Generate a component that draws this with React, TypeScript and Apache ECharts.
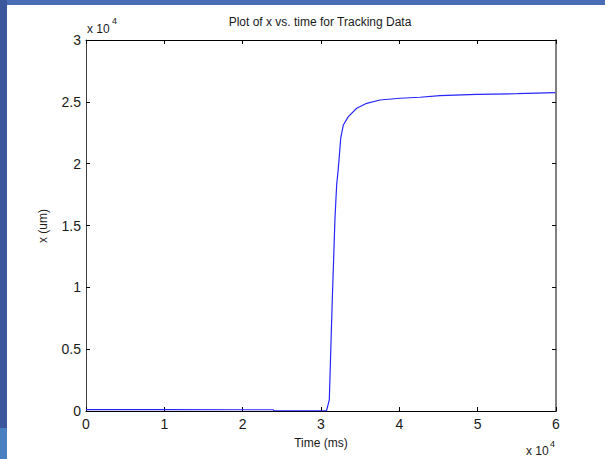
import React, { useEffect, useRef } from "react";
import * as echarts from "echarts";

const timeMs = [0, 10000, 20000, 23900, 24000, 30700, 31060, 31440, 31780, 32000, 32210, 32515, 32850, 33490, 34560, 35835, 37530, 40090, 42640, 45190, 49880, 55000, 59900];
const xUm = [110, 105, 100, 100, 20, 20, 900, 9000, 15500, 18300, 19600, 22050, 23130, 23800, 24480, 24880, 25150, 25290, 25370, 25500, 25610, 25660, 25740];

const titleText = "Plot of x vs. time for Tracking Data";
const xName = "Time (ms)";
const yName = "x (um)";

export default function App() {
  const ref = useRef<HTMLDivElement>(null);
  useEffect(() => {
    if (!ref.current) return;
    const chart = echarts.init(ref.current, null, { renderer: "svg" });
    const font = "Liberation Sans, Arial, sans-serif";
    const txt = "#1a1a1a";
    const data = timeMs.map((t, i) => [t, xUm[i]]);
    const fmt = (v: number) => String(+(v / 10000).toFixed(1));
    chart.setOption({
      animation: false,
      backgroundColor: "#ffffff",
      grid: { left: 86, top: 40, width: 470, height: 371, containLabel: false },
      xAxis: [
        {
          type: "value", min: 0, max: 60000, interval: 10000, position: "bottom",
          axisLine: { show: true, onZero: false, lineStyle: { color: "#000", width: 1 } },
          axisTick: { show: true, inside: true, length: 4, lineStyle: { color: "#000" } },
          axisLabel: { formatter: fmt, color: txt, fontSize: 14, fontFamily: font, margin: 6 },
          splitLine: { show: false },
        },
        {
          type: "value", min: 0, max: 60000, interval: 10000, position: "top",
          axisLine: { show: true, onZero: false, lineStyle: { color: "#000", width: 1 } },
          axisTick: { show: true, inside: true, length: 4, lineStyle: { color: "#000" } },
          axisLabel: { show: false },
          splitLine: { show: false },
        },
      ],
      yAxis: [
        {
          type: "value", min: 0, max: 30000, interval: 5000, position: "left",
          axisLine: { show: true, onZero: false, lineStyle: { color: "#404040", width: 1 } },
          axisTick: { show: true, inside: true, length: 4, lineStyle: { color: "#000" } },
          axisLabel: { formatter: fmt, color: txt, fontSize: 14, fontFamily: font, margin: 5 },
          splitLine: { show: false },
        },
        {
          type: "value", min: 0, max: 30000, interval: 5000, position: "right",
          axisLine: { show: true, onZero: false, lineStyle: { color: "#808080", width: 2 } },
          axisTick: { show: true, inside: true, length: 4, lineStyle: { color: "#000" } },
          axisLabel: { show: false },
          splitLine: { show: false },
        },
      ],
      series: [
        {
          type: "line", xAxisIndex: 0, yAxisIndex: 0, data,
          showSymbol: false, symbol: "none", smooth: false,
          lineStyle: { color: "#2626ff", width: 1.2 },
        },
      ],
      graphic: [
        { type: "rect", shape: { x: 0, y: 0, width: 605, height: 5 }, style: { fill: "#4a6cb5" }, z: 100 },
        { type: "rect", shape: { x: 0, y: 0, width: 7, height: 428 }, style: { fill: "#3a569c" }, z: 100 },
        { type: "rect", shape: { x: 0, y: 428, width: 7, height: 31 }, style: { fill: "#4a80c2" }, z: 100 },
        { type: "text", x: 320, y: 22, style: { text: titleText, align: "center", verticalAlign: "middle", fontSize: 12, fontFamily: font, fill: txt } },
        { type: "text", x: 321, y: 443, style: { text: xName, align: "center", verticalAlign: "middle", fontSize: 12, fontFamily: font, fill: txt } },
        { type: "text", x: 43, y: 226, rotation: Math.PI / 2, style: { text: yName, align: "center", verticalAlign: "middle", fontSize: 12, fontFamily: font, fill: txt } },
        { type: "text", x: 87, y: 29, style: { text: "x 10", align: "left", verticalAlign: "middle", fontSize: 12, fontFamily: font, fill: txt } },
        { type: "text", x: 112, y: 21, style: { text: "4", align: "left", verticalAlign: "middle", fontSize: 9, fontFamily: font, fill: txt } },
        { type: "text", x: 526, y: 451, style: { text: "x 10", align: "left", verticalAlign: "middle", fontSize: 12, fontFamily: font, fill: txt } },
        { type: "text", x: 550, y: 444, style: { text: "4", align: "left", verticalAlign: "middle", fontSize: 9, fontFamily: font, fill: txt } },
      ],
    });
    return () => chart.dispose();
  }, []);
  return <div ref={ref} style={{ position: "absolute", left: 0, top: 0, width: 605, height: 459 }} />;
}
